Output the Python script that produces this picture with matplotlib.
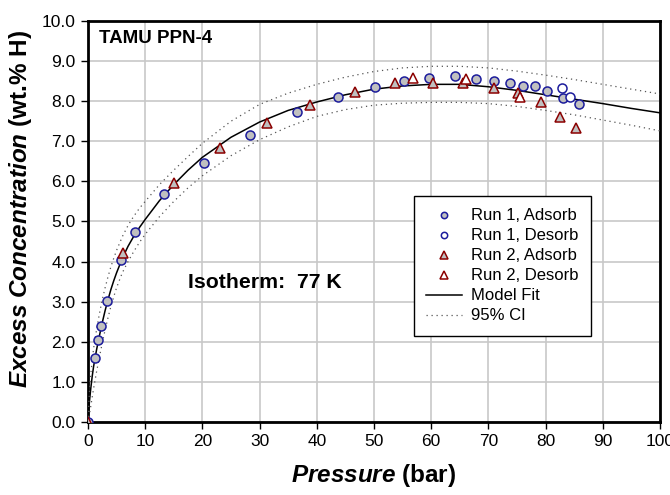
import matplotlib
matplotlib.use("Agg")
import matplotlib.pyplot as plt
from matplotlib.ticker import MultipleLocator, FormatStrFormatter

plt.rcParams.update({
    "font.family": ["Liberation Sans", "DejaVu Sans"],
    "mathtext.fontset": "custom",
    "mathtext.rm": "Liberation Sans",
    "mathtext.bf": "Liberation Sans:bold",
    "mathtext.it": "Liberation Sans:italic",
    "mathtext.bfit": "Liberation Sans:italic:bold",
})

# ---- measured points (pressure in bar, excess wt.% H) ----
r1_ads_p = [0, 1.2, 1.8, 2.3, 3.4, 5.7, 8.2, 13.3, 20.2, 28.3, 36.6, 43.7, 50.2,
            55.2, 59.6, 64.1, 67.9, 71.0, 73.8, 76.1, 78.1, 80.3, 83.0, 85.8]
r1_ads_c = [0, 1.59, 2.04, 2.40, 3.02, 4.04, 4.73, 5.68, 6.45, 7.15, 7.74, 8.10, 8.35,
            8.50, 8.57, 8.63, 8.55, 8.51, 8.45, 8.38, 8.38, 8.25, 8.07, 7.92]
r1_des_p = [82.8, 84.3]
r1_des_c = [8.33, 8.10]
r2_ads_p = [0, 6.1, 15.0, 23.1, 31.3, 38.9, 46.7, 53.6, 60.4, 65.6, 70.9, 75.2,
            79.2, 82.5, 85.4]
r2_ads_c = [0, 4.21, 5.95, 6.83, 7.45, 7.90, 8.24, 8.45, 8.46, 8.46, 8.34, 8.21,
            7.99, 7.61, 7.32]
r2_des_p = [56.8, 66.1, 75.5]
r2_des_c = [8.59, 8.55, 8.11]

# ---- model fit and 95% CI ----
curve_p = [0, 0.25, 0.5, 0.75, 1, 1.5, 2, 2.5, 3, 3.5, 4, 4.5, 5, 6, 7, 8, 9, 10,
           12.5, 15, 17.5, 20, 25, 30, 35, 40, 45, 50, 55, 60, 65, 70, 75, 80, 85,
           90, 95, 100]
fit_c = [0, 0.5, 0.85, 1.15, 1.4, 1.8, 2.15, 2.48, 2.78, 3.05, 3.3, 3.52, 3.72,
         4.08, 4.38, 4.63, 4.85, 5.05, 5.52, 5.92, 6.28, 6.6, 7.1, 7.48, 7.77, 7.98,
         8.16, 8.3, 8.38, 8.42, 8.42, 8.36, 8.27, 8.16, 8.05, 7.94, 7.82, 7.71]
ci_hi = [0, 0.75, 1.2, 1.55, 1.85, 2.3, 2.7, 3.05, 3.35, 3.62, 3.87, 4.08, 4.28,
         4.62, 4.9, 5.13, 5.33, 5.5, 5.92, 6.28, 6.62, 6.95, 7.5, 7.92, 8.2, 8.42,
         8.6, 8.74, 8.83, 8.87, 8.87, 8.83, 8.75, 8.65, 8.54, 8.42, 8.3, 8.18]
ci_lo = [0, 0.2, 0.4, 0.63, 0.85, 1.25, 1.62, 1.97, 2.3, 2.6, 2.88, 3.12, 3.35,
         3.72, 4.0, 4.25, 4.48, 4.68, 5.12, 5.5, 5.84, 6.14, 6.64, 7.04, 7.36, 7.62,
         7.79, 7.9, 7.95, 7.97, 7.97, 7.94, 7.87, 7.77, 7.66, 7.53, 7.4, 7.26]

BLUE = "#1c1c9c"
RED = "#8b0000"
GREY = "#c0c0c0"
CI_STYLE = dict(color="#555555", lw=0.9, ls=(0, (1, 3)))

fig = plt.figure(figsize=(6.7, 4.95), dpi=100)
ax = fig.add_axes([0.1313, 0.1475, 0.8537, 0.8101])

ax.plot(curve_p, fit_c, color="black", lw=1.1, zorder=3)
ax.plot(curve_p, ci_hi, zorder=3, **CI_STYLE)
ax.plot(curve_p, ci_lo, zorder=3, **CI_STYLE)

ms = 6.5
h1 = ax.plot(r1_ads_p, r1_ads_c, "o", ms=ms, mfc=GREY, mec=BLUE, mew=1.1, zorder=4)[0]
h2 = ax.plot(r1_des_p, r1_des_c, "o", ms=ms, mfc="white", mec=BLUE, mew=1.1, zorder=4)[0]
h3 = ax.plot(r2_ads_p, r2_ads_c, "^", ms=ms + 1, mfc=GREY, mec=RED, mew=1.1, zorder=4)[0]
h4 = ax.plot(r2_des_p, r2_des_c, "^", ms=ms + 1, mfc="white", mec=RED, mew=1.1, zorder=4)[0]
hfit, = ax.plot([], [], color="black", lw=1.1)
hci, = ax.plot([], [], **CI_STYLE)

ax.set_xlim(0, 100)
ax.set_ylim(0, 10)
ax.xaxis.set_major_locator(MultipleLocator(10))
ax.yaxis.set_major_locator(MultipleLocator(1))
ax.yaxis.set_major_formatter(FormatStrFormatter("%.1f"))
ax.grid(True, color="#c8c8c8", lw=1.2, zorder=0)
ax.set_axisbelow(True)
for sp in ax.spines.values():
    sp.set_linewidth(2)
    sp.set_color("black")
ax.tick_params(direction="out", length=5, width=1, labelsize=12.5, pad=4)

ax.set_xlabel(r"$\mathbfit{Pressure}$ (bar)", fontsize=17.5, fontweight="bold", labelpad=9)
ax.set_ylabel(r"$\mathbfit{Excess\ Concentration}$ (wt.% H)", fontsize=17.5,
              fontweight="bold")
ax.yaxis.set_label_coords(-0.095, 0.53)

ax.text(1.9, 9.57, "TAMU PPN-4", fontsize=13.5, fontweight="bold", va="center", ha="left")
ax.text(17.5, 3.47, "Isotherm:  77 K", fontsize=15.3, fontweight="bold", va="center", ha="left")

leg = ax.legend([h1, h2, h3, h4, hfit, hci],
                ["Run 1, Adsorb", "Run 1, Desorb", "Run 2, Adsorb", "Run 2, Desorb",
                 "Model Fit", "95% CI"],
                loc="upper left", bbox_to_anchor=(0.570, 0.5636), borderaxespad=0,
                fontsize=12, markerscale=0.7, frameon=True, fancybox=False,
                handlelength=2.15, labelspacing=0.3, borderpad=0.75, handletextpad=0.55)
leg.get_frame().set_edgecolor("black")
leg.get_frame().set_linewidth(1.0)
leg.get_frame().set_alpha(1)

fig.savefig("out.png", dpi=100, facecolor="white")
